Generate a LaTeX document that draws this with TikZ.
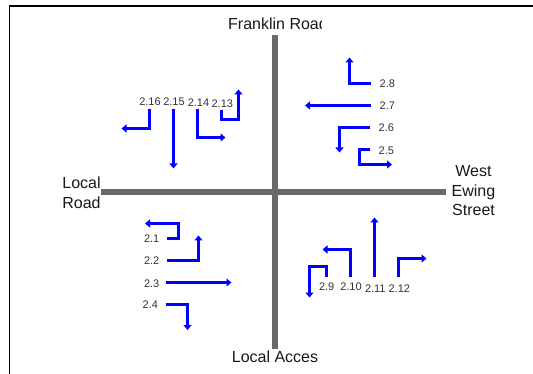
\documentclass[tikz,border=0pt]{standalone}
\usepackage{fontspec}
\setmainfont{Liberation Sans}
\usetikzlibrary{arrows.meta}
\definecolor{roadgray}{HTML}{696969}
\tikzset{
  road/.style={draw=roadgray,line width=6pt},
  frameline/.style={draw=black,line width=1.2pt},
  mv/.style={draw=blue,line width=2.7pt,miter limit=10,-{Triangle[length=5pt,width=8pt]}},
  roadname/.style={inner sep=0pt,align=center,text=black!90,font=\fontsize{16}{19.5}\selectfont},
  mvlabel/.style={inner sep=0pt,text=black!80,font=\fontsize{11}{12}\selectfont}
}
\begin{document}
\begin{tikzpicture}[x=1pt,y=-1pt]
\useasboundingbox (0,0) rectangle (533,374);
\fill[white] (0,0) rectangle (533,374);
% frame
\coordinate (fa) at (9.5,374); \coordinate (fb) at (9.5,6); \coordinate (fc) at (533,6);
\draw[frameline] (fa) -- (fb) -- (fc);
% roads
\coordinate (rn) at (274.5,35); \coordinate (rs) at (274.5,349);
\coordinate (rw) at (101,192.5); \coordinate (re) at (446,192.5);
\draw[road] (rn) -- (rs);
\draw[road] (rw) -- (re);
% road names
\begin{scope}
\clip (200,10) rectangle (321,35);
\node[roadname] (franklin) at (278,24) {Franklin Road};
\end{scope}
\node[roadname] (local) at (81.5,192.7) {Local\\Road};
\node[roadname] (west) at (473.5,190.8) {West\\Ewing\\Street};
\node[roadname] (access) at (275,357) {Local Acces};
% labels
\node[mvlabel] (l1) at (151.7,239) {2.1};
\node[mvlabel] (l2) at (151.7,261) {2.2};
\node[mvlabel] (l3) at (151.7,283.3) {2.3};
\node[mvlabel] (l4) at (150.3,305) {2.4};
\node[mvlabel] (l5) at (386.3,150.3) {2.5};
\node[mvlabel] (l6) at (386.3,128) {2.6};
\node[mvlabel] (l7) at (387.3,106) {2.7};
\node[mvlabel] (l8) at (387.3,84) {2.8};
\node[mvlabel] (l9) at (326.7,287) {2.9};
\node[mvlabel] (l10) at (351,287) {2.10};
\node[mvlabel] (l11) at (375.3,288.3) {2.11};
\node[mvlabel] (l12) at (399.3,288.3) {2.12};
\node[mvlabel] (l13) at (222.3,103.5) {2.13};
\node[mvlabel] (l14) at (198.5,102.5) {2.14};
\node[mvlabel] (l15) at (174,102) {2.15};
\node[mvlabel] (l16) at (150,101.5) {2.16};
% movement end points
\coordinate (s1) at (167,238.5); \coordinate (b1a) at (178.5,238.5); \coordinate (b1b) at (178.5,223.5); \coordinate (e1) at (145,223.5);
\coordinate (s2) at (167,260.5); \coordinate (b2) at (198.5,260.5); \coordinate (e2) at (198.5,235.5);
\coordinate (s3) at (166,282.5); \coordinate (e3) at (231.5,282.5);
\coordinate (s4) at (166,304.5); \coordinate (b4) at (187.5,304.5); \coordinate (e4) at (187.5,330);
\coordinate (s5) at (370,149.5); \coordinate (b5a) at (359.5,149.5); \coordinate (b5b) at (359.5,164.5); \coordinate (e5) at (392,164.5);
\coordinate (s6) at (370,127.5); \coordinate (b6) at (339.5,127.5); \coordinate (e6) at (339.5,152.5);
\coordinate (s7) at (370.5,105.5); \coordinate (e7) at (305,105.5);
\coordinate (s8) at (371,83.5); \coordinate (b8) at (349.5,83.5); \coordinate (e8) at (349.5,57.5);
\coordinate (s9) at (326.5,277); \coordinate (b9a) at (326.5,266.5); \coordinate (b9b) at (309.5,266.5); \coordinate (e9) at (309.5,297.5);
\coordinate (s10) at (350.5,277.5); \coordinate (b10) at (350.5,249.5); \coordinate (e10) at (322.5,249.5);
\coordinate (s11) at (374.5,277.5); \coordinate (e11) at (374.5,217.5);
\coordinate (s12) at (398.5,277.5); \coordinate (b12) at (398.5,258.5); \coordinate (e12) at (426.5,258.5);
\coordinate (s13) at (221.5,110); \coordinate (b13a) at (221.5,119.5); \coordinate (b13b) at (238.5,119.5); \coordinate (e13) at (238.5,89.5);
\coordinate (s14) at (197.5,109); \coordinate (b14) at (197.5,137.5); \coordinate (e14) at (225.5,137.5);
\coordinate (s15) at (173.5,109); \coordinate (e15) at (173.5,168.5);
\coordinate (s16) at (149.5,109); \coordinate (b16) at (149.5,128.5); \coordinate (e16) at (121.5,128.5);
% movements
\draw[mv] (s1) -- (b1a) -- (b1b) -- (e1);
\draw[mv] (s2) -- (b2) -- (e2);
\draw[mv] (s3) -- (e3);
\draw[mv] (s4) -- (b4) -- (e4);
\draw[mv] (s5) -- (b5a) -- (b5b) -- (e5);
\draw[mv] (s6) -- (b6) -- (e6);
\draw[mv] (s7) -- (e7);
\draw[mv] (s8) -- (b8) -- (e8);
\draw[mv] (s9) -- (b9a) -- (b9b) -- (e9);
\draw[mv] (s10) -- (b10) -- (e10);
\draw[mv] (s11) -- (e11);
\draw[mv] (s12) -- (b12) -- (e12);
\draw[mv] (s13) -- (b13a) -- (b13b) -- (e13);
\draw[mv] (s14) -- (b14) -- (e14);
\draw[mv] (s15) -- (e15);
\draw[mv] (s16) -- (b16) -- (e16);
\end{tikzpicture}
\end{document}
